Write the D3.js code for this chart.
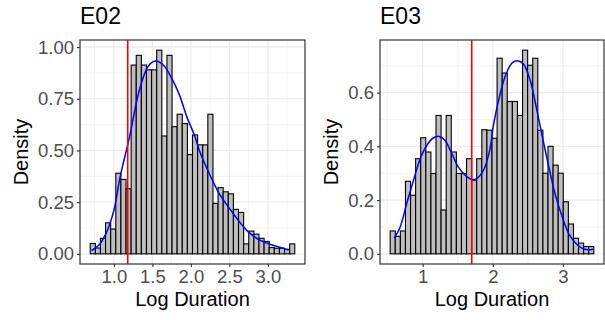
<!DOCTYPE html>
<html>
<head>
<meta charset="utf-8">
<script src="https://cdn.jsdelivr.net/npm/d3@7/dist/d3.min.js"></script>
<style>
  body { margin: 0; background: #fff; }
  svg { display: block; font-family: "Liberation Sans", Arial, sans-serif; }
</style>
</head>
<body>
<svg id="chart" width="605" height="320"></svg>
<script>
// E02 histogram: 40 bins, density heights
const e02BinStart = 0.693;
const e02BinWidth = 0.0664;
const e02Density = [0.05, 0.028, 0.075, 0.15, 0.12, 0.39, 0.36, 0.315, 0.913, 0.96,
  0.913, 0.89, 0.89, 0.985, 0.57, 0.96, 0.615, 0.675, 0.63, 0.48,
  0.575, 0.527, 0.527, 0.675, 0.244, 0.32, 0.30, 0.29, 0.215, 0.20,
  0.048, 0.11, 0.095, 0.075, 0.06, 0.03, 0.027, 0.027, 0.022, 0.048];
// kernel density curve for E02 (x, density)
const e02KdeX = [0.71, 0.80, 0.90, 1.00, 1.08, 1.20, 1.33, 1.45, 1.55, 1.65, 1.75, 1.85,
  1.95, 2.05, 2.11, 2.20, 2.30, 2.37, 2.50, 2.63, 2.75, 2.89, 3.00, 3.15, 3.27];
const e02KdeY = [0.016, 0.04, 0.10, 0.21, 0.37, 0.56, 0.79, 0.91, 0.933, 0.91, 0.85, 0.77,
  0.66, 0.57, 0.50, 0.42, 0.34, 0.29, 0.22, 0.155, 0.105, 0.067, 0.05, 0.032, 0.018];
const e02Cut = 1.18;

// E03
const e03BinStart = 0.537;
const e03BinWidth = 0.0726;
const e03Density = [0.085, 0.065, 0.085, 0.27, 0.218, 0.354, 0.432, 0.379, 0.299, 0.515,
  0.163, 0.515, 0.379, 0.299, 0.299, 0.354, 0.274, 0.354, 0.462, 0.46,
  0.43, 0.728, 0.673, 0.567, 0.567, 0.515, 0.758, 0.702, 0.728, 0.46,
  0.30, 0.40, 0.33, 0.30, 0.194, 0.111, 0.058, 0.04, 0.027, 0.027];
const e03KdeX = [0.595, 0.68, 0.775, 0.87, 0.965, 1.06, 1.155, 1.24, 1.32, 1.416, 1.51, 1.605,
  1.70, 1.77, 1.867, 1.96, 2.01, 2.10, 2.19, 2.28, 2.366, 2.44, 2.535, 2.63, 2.72,
  2.81, 2.90, 2.99, 3.08, 3.18, 3.27, 3.36, 3.43];
const e03KdeY = [0.058, 0.10, 0.19, 0.274, 0.354, 0.404, 0.432, 0.437, 0.422, 0.373, 0.323, 0.293,
  0.277, 0.28, 0.311, 0.39, 0.48, 0.59, 0.67, 0.712, 0.718, 0.706, 0.644, 0.533, 0.42,
  0.311, 0.212, 0.138, 0.077, 0.04, 0.021, 0.015, 0.017];
const e03Cut = 1.70;

const e02XTicks = [1.0, 1.5, 2.0, 2.5, 3.0];
const e02YTicks = [0, 0.25, 0.5, 0.75, 1.0];
const e03XTicks = [1, 2, 3];
const e03YTicks = [0, 0.2, 0.4, 0.6];

const svg = d3.select("#chart");

function drawPanel(p) {
  const bins = p.density.map(function(d, i) {
    return { x0: p.binStart + i * p.binWidth, x1: p.binStart + (i + 1) * p.binWidth, y: d };
  });
  const kde = p.kdeX.map(function(x, i) { return [x, p.kdeY[i]]; });

  const xLo = bins[0].x0, xHi = bins[bins.length - 1].x1;
  const xPad = (xHi - xLo) * 0.05;
  const yMax = d3.max(p.density.concat(p.kdeY));

  const x = d3.scaleLinear().domain([xLo - xPad, xHi + xPad]).range([p.left, p.right]);
  const y = d3.scaleLinear().domain([-yMax * 0.05, yMax * 1.05]).range([p.bottom, p.top]);

  const g = svg.append("g");

  // grid
  const xMinor = d3.range(Math.ceil(x.domain()[0] / p.xMinorStep) * p.xMinorStep, x.domain()[1], p.xMinorStep)
    .filter(function(v) { return !p.xTicks.some(function(t) { return Math.abs(t - v) < 1e-6; }); });
  const yMinor = d3.range(Math.ceil(y.domain()[0] / p.yMinorStep) * p.yMinorStep, y.domain()[1], p.yMinorStep)
    .filter(function(v) { return !p.yTicks.some(function(t) { return Math.abs(t - v) < 1e-6; }); });

  g.selectAll(".xminor").data(xMinor).enter().append("line")
    .attr("x1", function(d) { return x(d); }).attr("x2", function(d) { return x(d); })
    .attr("y1", p.top).attr("y2", p.bottom)
    .attr("stroke", "#ebebeb").attr("stroke-width", 0.6);
  g.selectAll(".yminor").data(yMinor).enter().append("line")
    .attr("y1", function(d) { return y(d); }).attr("y2", function(d) { return y(d); })
    .attr("x1", p.left).attr("x2", p.right)
    .attr("stroke", "#ebebeb").attr("stroke-width", 0.6);
  g.selectAll(".xmajor").data(p.xTicks).enter().append("line")
    .attr("x1", function(d) { return x(d); }).attr("x2", function(d) { return x(d); })
    .attr("y1", p.top).attr("y2", p.bottom)
    .attr("stroke", "#ebebeb").attr("stroke-width", 1.2);
  g.selectAll(".ymajor").data(p.yTicks).enter().append("line")
    .attr("y1", function(d) { return y(d); }).attr("y2", function(d) { return y(d); })
    .attr("x1", p.left).attr("x2", p.right)
    .attr("stroke", "#ebebeb").attr("stroke-width", 1.2);

  // bars
  g.selectAll("rect.bar").data(bins).enter().append("rect")
    .attr("class", "bar")
    .attr("x", function(d) { return x(d.x0); })
    .attr("width", function(d) { return x(d.x1) - x(d.x0); })
    .attr("y", function(d) { return y(d.y); })
    .attr("height", function(d) { return y(0) - y(d.y); })
    .attr("fill", "#bebebe").attr("stroke", "#000").attr("stroke-width", 1.1);

  // density curve
  g.append("path").datum(kde)
    .attr("d", d3.line().x(function(d) { return x(d[0]); }).y(function(d) { return y(d[1]); })
      .curve(d3.curveCatmullRom))
    .attr("fill", "none").attr("stroke", "#0000ff").attr("stroke-width", 1.5);

  // cut line
  g.append("line")
    .attr("x1", x(p.cut)).attr("x2", x(p.cut))
    .attr("y1", p.top).attr("y2", p.bottom)
    .attr("stroke", "#ff0000").attr("stroke-width", 1.6);

  // border
  g.append("rect")
    .attr("x", p.left).attr("y", p.top)
    .attr("width", p.right - p.left).attr("height", p.bottom - p.top)
    .attr("fill", "none").attr("stroke", "#333").attr("stroke-width", 1.2);

  // axes
  const xAxis = g.append("g").attr("transform", "translate(0," + p.bottom + ")")
    .call(d3.axisBottom(x).tickValues(p.xTicks).tickFormat(d3.format(p.xFormat)).tickSize(3).tickPadding(3));
  const yAxis = g.append("g").attr("transform", "translate(" + p.left + ",0)")
    .call(d3.axisLeft(y).tickValues(p.yTicks).tickFormat(d3.format(p.yFormat)).tickSize(3).tickPadding(3));
  [xAxis, yAxis].forEach(function(a) {
    a.select(".domain").remove();
    a.selectAll(".tick line").attr("stroke", "#333").attr("stroke-width", 1.1);
    a.selectAll(".tick text").attr("fill", "#4d4d4d").style("font-size", "18.5px")
      .style("font-family", "'Liberation Sans', Arial, sans-serif");
  });

  // titles
  g.append("text").attr("x", p.left).attr("y", 24)
    .style("font-size", "23px").attr("fill", "#000").text(p.title);
  g.append("text").attr("x", (p.left + p.right) / 2).attr("y", 306)
    .attr("text-anchor", "middle").style("font-size", "20px").attr("fill", "#000").text("Log Duration");
  g.append("text")
    .attr("transform", "translate(" + p.yTitleX + "," + ((p.top + p.bottom) / 2) + ") rotate(-90)")
    .attr("text-anchor", "middle").style("font-size", "20px").attr("fill", "#000").text("Density");
}

drawPanel({
  title: "E02", left: 80, right: 305, top: 40, bottom: 264, yTitleX: 28,
  binStart: e02BinStart, binWidth: e02BinWidth, density: e02Density,
  kdeX: e02KdeX, kdeY: e02KdeY, cut: e02Cut,
  xTicks: e02XTicks, yTicks: e02YTicks, xMinorStep: 0.25, yMinorStep: 0.125,
  xFormat: ".1f", yFormat: ".2f"
});
drawPanel({
  title: "E03", left: 380, right: 604, top: 40, bottom: 264, yTitleX: 338,
  binStart: e03BinStart, binWidth: e03BinWidth, density: e03Density,
  kdeX: e03KdeX, kdeY: e03KdeY, cut: e03Cut,
  xTicks: e03XTicks, yTicks: e03YTicks, xMinorStep: 0.5, yMinorStep: 0.1,
  xFormat: "d", yFormat: ".1f"
});
</script>
</body>
</html>
